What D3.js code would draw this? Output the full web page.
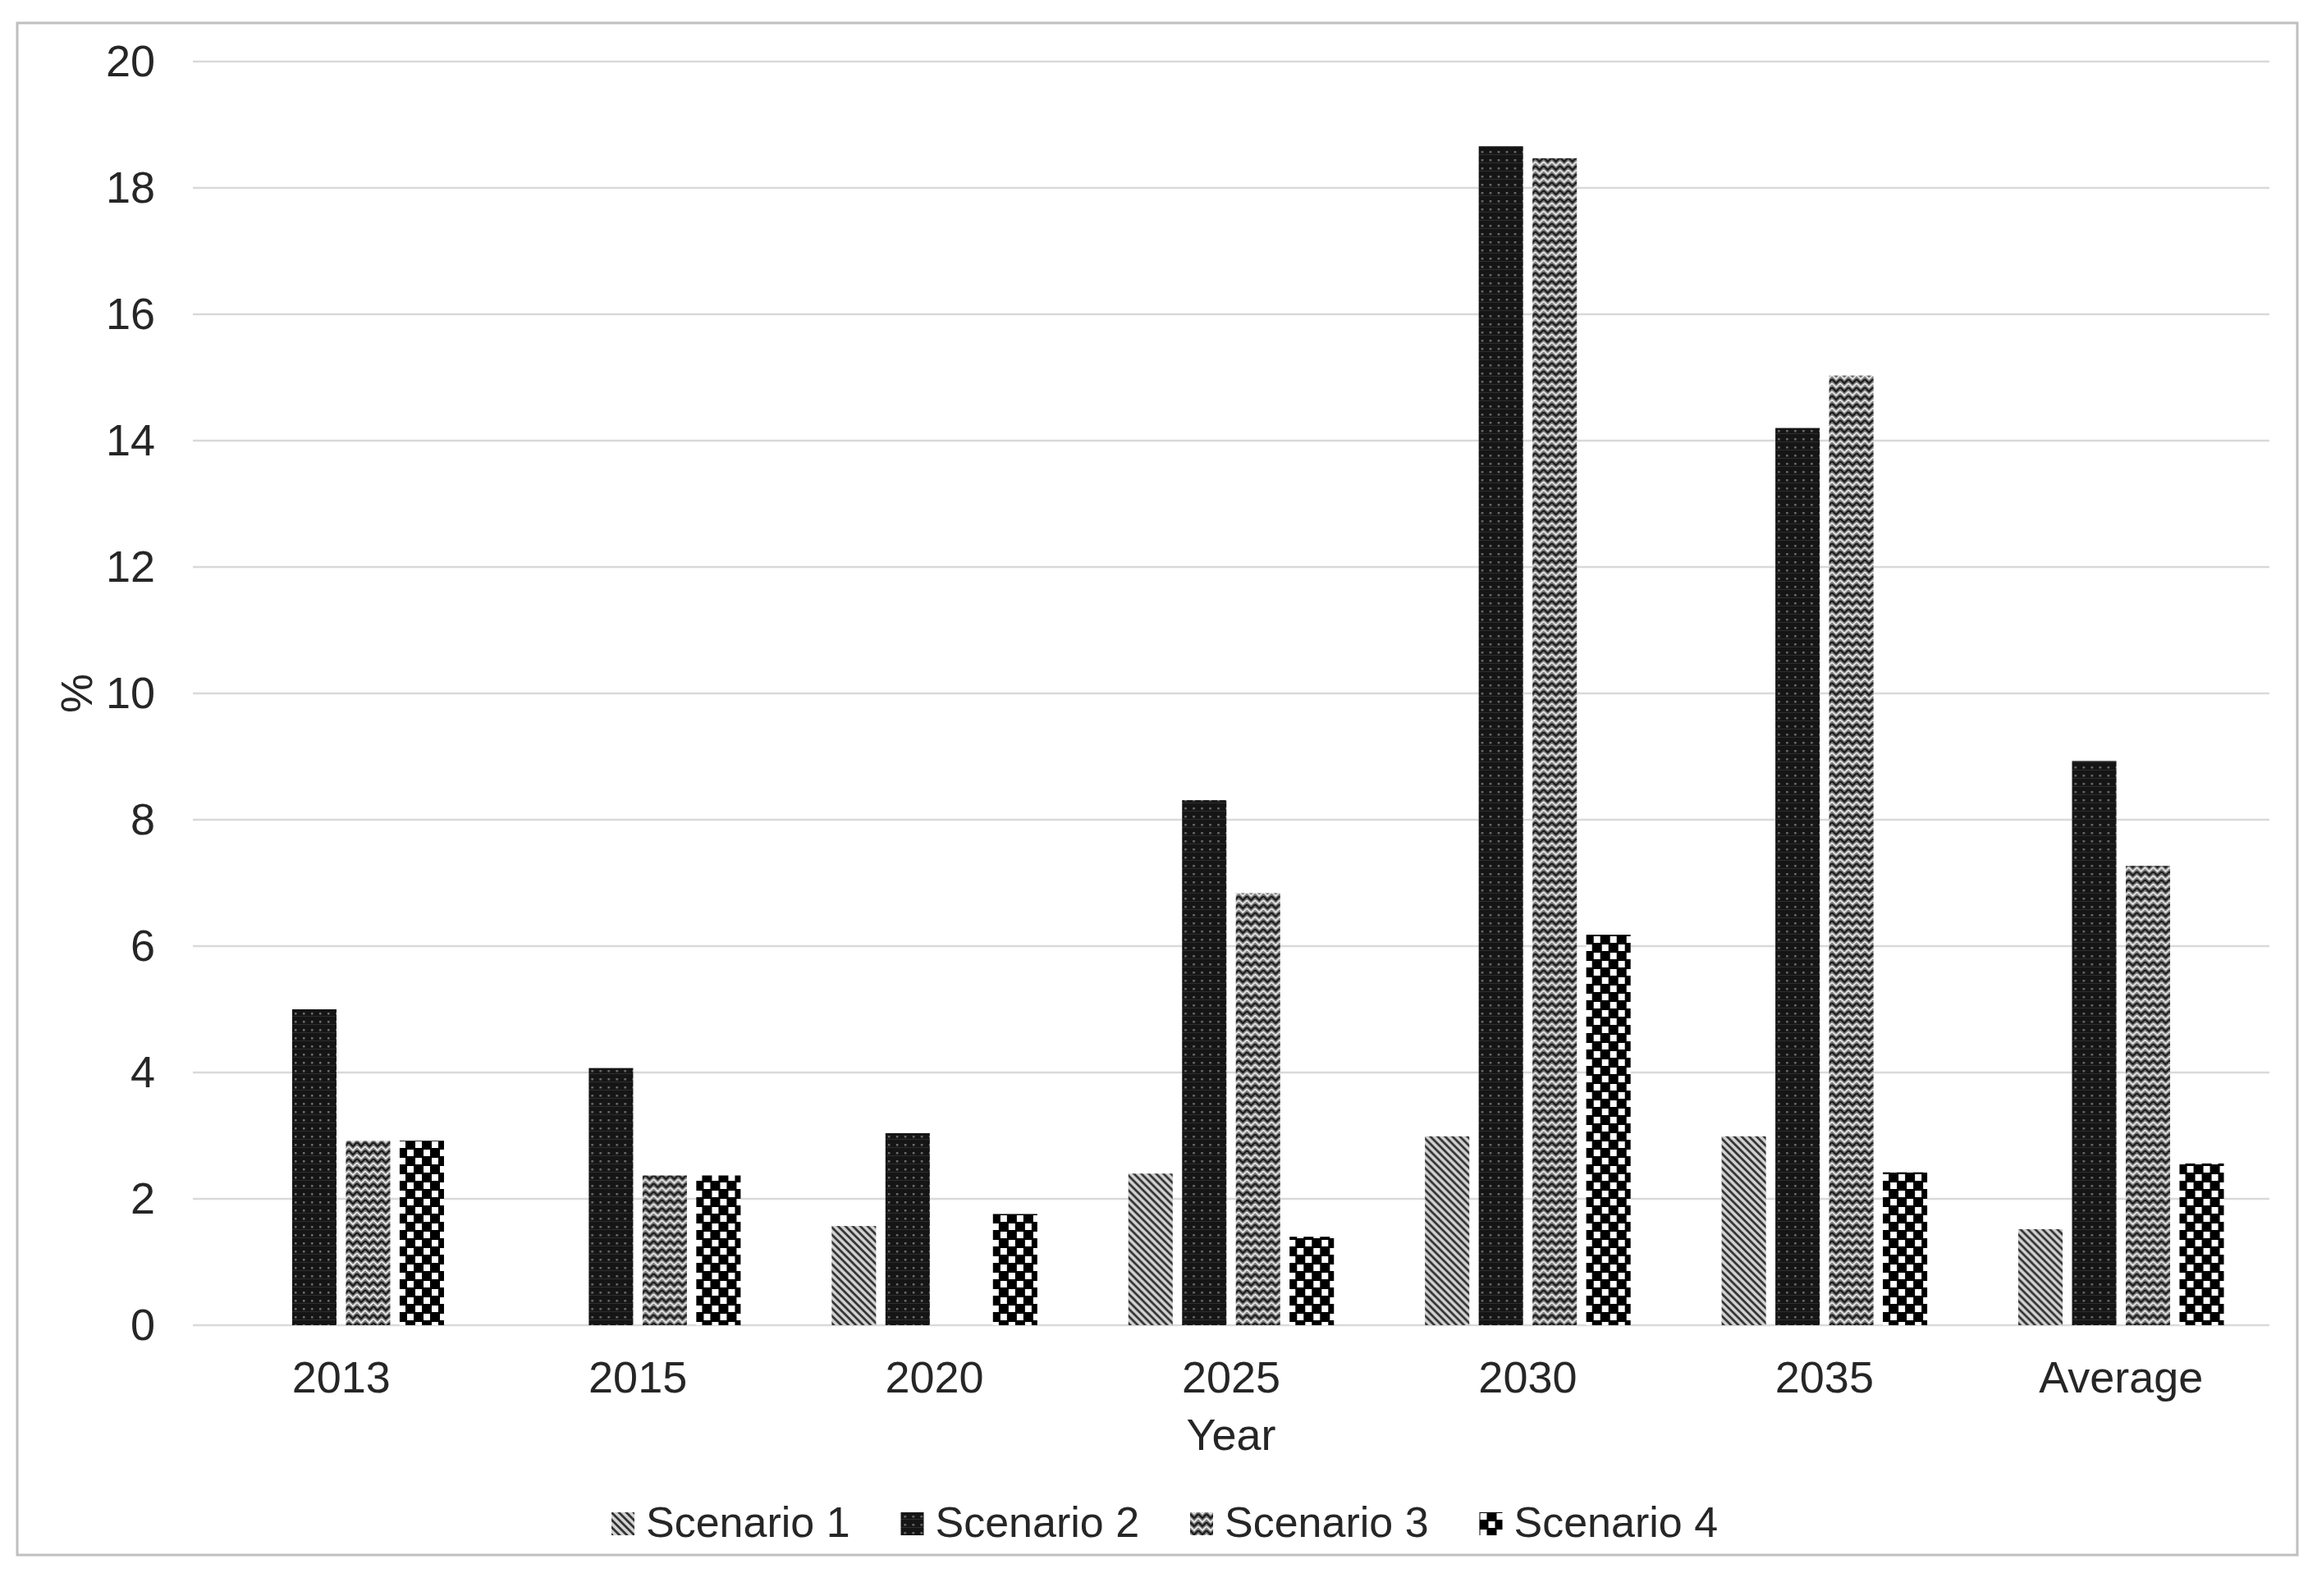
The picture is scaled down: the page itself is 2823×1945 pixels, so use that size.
<!DOCTYPE html>
<html>
<head>
<meta charset="utf-8">
<script src="https://cdn.jsdelivr.net/npm/d3@7"></script>
<style>
  body { margin: 0; background: #fff; }
  text { font-family: "Liberation Sans", Arial, sans-serif; fill: #262626; }
</style>
</head>
<body>
<div class="canvas"></div>
<script>
// data
const categories = ['2013', '2015', '2020', '2025', '2030', '2035', 'Average'];
const seriesNames = ['Scenario 1', 'Scenario 2', 'Scenario 3', 'Scenario 4'];
const scenario1 = [0, 0, 1.57, 2.40, 2.99, 2.99, 1.52];
const scenario2 = [5.0, 4.07, 3.04, 8.31, 18.66, 14.2, 8.93];
const scenario3 = [2.92, 2.37, 0, 6.84, 18.47, 15.03, 7.27];
const scenario4 = [2.92, 2.37, 1.76, 1.40, 6.18, 2.42, 2.56];
const yTicks = [0, 2, 4, 6, 8, 10, 12, 14, 16, 18, 20];

const allSeries = [scenario1, scenario2, scenario3, scenario4];

const width = 2823, height = 1945;
const svg = d3.select('.canvas')
  .append('svg')
  .attr('width', width)
  .attr('height', height);

// chart frame
svg.append('rect')
  .attr('x', 21).attr('y', 28)
  .attr('width', 2778).attr('height', 1867)
  .attr('fill', 'none')
  .attr('stroke', '#bfbfbf')
  .attr('stroke-width', 3);

// patterns for the four scenarios
const defs = svg.append('defs');

const p1 = defs.append('pattern').attr('id', 'pat0')
  .attr('patternUnits', 'userSpaceOnUse').attr('width', 9).attr('height', 9);
p1.append('rect').attr('width', 9).attr('height', 9).attr('fill', '#d2d2d2');
p1.append('path').attr('d', 'M0,0 L9,9 M-4.5,4.5 L4.5,13.5 M4.5,-4.5 L13.5,4.5')
  .attr('stroke', '#333').attr('stroke-width', 2.8);

const p2 = defs.append('pattern').attr('id', 'pat1')
  .attr('patternUnits', 'userSpaceOnUse').attr('width', 10).attr('height', 10);
p2.append('rect').attr('width', 10).attr('height', 10).attr('fill', '#151515');
p2.append('rect').attr('x', 4).attr('y', 4).attr('width', 2.5).attr('height', 2.5).attr('fill', '#6e6e6e');
p2.append('rect').attr('x', 0).attr('y', 8).attr('width', 10).attr('height', 1).attr('fill', '#2e2e2e');

const p3 = defs.append('pattern').attr('id', 'pat2')
  .attr('patternUnits', 'userSpaceOnUse').attr('width', 10).attr('height', 10);
p3.append('rect').attr('width', 10).attr('height', 10).attr('fill', '#808080');
p3.append('path').attr('d', 'M0,2 L5,7 L10,2').attr('fill', 'none')
  .attr('stroke', '#1e1e1e').attr('stroke-width', 2.4);
p3.append('path').attr('d', 'M0,7 L5,12 L10,7 M0,-3 L5,2 L10,-3').attr('fill', 'none')
  .attr('stroke', '#eeeeee').attr('stroke-width', 1.6);

const p4 = defs.append('pattern').attr('id', 'pat3')
  .attr('patternUnits', 'userSpaceOnUse').attr('width', 20).attr('height', 20);
p4.append('rect').attr('width', 20).attr('height', 20).attr('fill', '#000');
p4.append('rect').attr('x', 1).attr('y', 1).attr('width', 8).attr('height', 8).attr('fill', '#fff');
p4.append('rect').attr('x', 11).attr('y', 11).attr('width', 8).attr('height', 8).attr('fill', '#fff');

// plot area
const plot = { left: 235, right: 2765, top: 75, bottom: 1615 };

const y = d3.scaleLinear()
  .domain([0, 20])
  .range([plot.bottom, plot.top]);

const x0 = d3.scaleBand()
  .domain(categories)
  .range([plot.left, plot.right])
  .paddingInner(0)
  .paddingOuter(0);

const x1 = d3.scaleBand()
  .domain(seriesNames)
  .range([0, x0.bandwidth()])
  .paddingInner(0.175)
  .paddingOuter(0.847);

// gridlines
svg.append('g')
  .selectAll('line')
  .data(yTicks)
  .enter()
  .append('line')
  .attr('x1', plot.left).attr('x2', plot.right)
  .attr('y1', d => y(d)).attr('y2', d => y(d))
  .attr('stroke', '#d9d9d9')
  .attr('stroke-width', 2.5);

// y axis labels
const yAxis = d3.axisLeft(y).tickValues(yTicks).tickSize(0).tickPadding(0);
const yAxisGroup = svg.append('g')
  .attr('transform', 'translate(189, 0)')
  .call(yAxis);
yAxisGroup.select('.domain').remove();
yAxisGroup.selectAll('text')
  .attr('font-size', 54)
  .attr('font-family', '"Liberation Sans", Arial, sans-serif')
  .attr('fill', '#262626');

// x axis labels
const xAxis = d3.axisBottom(x0).tickSize(0).tickPadding(0);
const xAxisGroup = svg.append('g')
  .attr('transform', `translate(0, ${plot.bottom})`)
  .call(xAxis);
xAxisGroup.select('.domain').remove();
xAxisGroup.selectAll('text')
  .attr('font-size', 54)
  .attr('font-family', '"Liberation Sans", Arial, sans-serif')
  .attr('fill', '#262626')
  .attr('dy', null)
  .attr('y', 82);

// bars
const groups = svg.append('g')
  .selectAll('g')
  .data(categories)
  .enter()
  .append('g')
  .attr('transform', d => `translate(${x0(d)}, 0)`);

groups.selectAll('rect')
  .data((d, i) => seriesNames.map((s, j) => ({ series: s, idx: j, value: allSeries[j][i] })))
  .enter()
  .append('rect')
  .attr('x', d => x1(d.series))
  .attr('width', x1.bandwidth())
  .attr('y', d => y(d.value))
  .attr('height', d => y(0) - y(d.value))
  .attr('fill', d => `url(#pat${d.idx})`);

// axis titles
svg.append('text')
  .attr('x', (plot.left + plot.right) / 2)
  .attr('y', 1767)
  .attr('text-anchor', 'middle')
  .attr('font-size', 54)
  .text('Year');

svg.append('text')
  .attr('transform', `translate(112, ${(plot.top + plot.bottom) / 2}) rotate(-90)`)
  .attr('text-anchor', 'middle')
  .attr('font-size', 54)
  .text('%');

// legend
const legend = svg.append('g')
  .selectAll('g')
  .data(seriesNames)
  .enter()
  .append('g')
  .attr('transform', (d, i) => `translate(${745 + i * 352.5}, 1843)`);

legend.append('rect')
  .attr('width', 28).attr('height', 28)
  .attr('fill', (d, i) => `url(#pat${i})`);

legend.append('text')
  .attr('x', 42)
  .attr('y', 30)
  .attr('font-size', 52)
  .text(d => d);
</script>
</body>
</html>
